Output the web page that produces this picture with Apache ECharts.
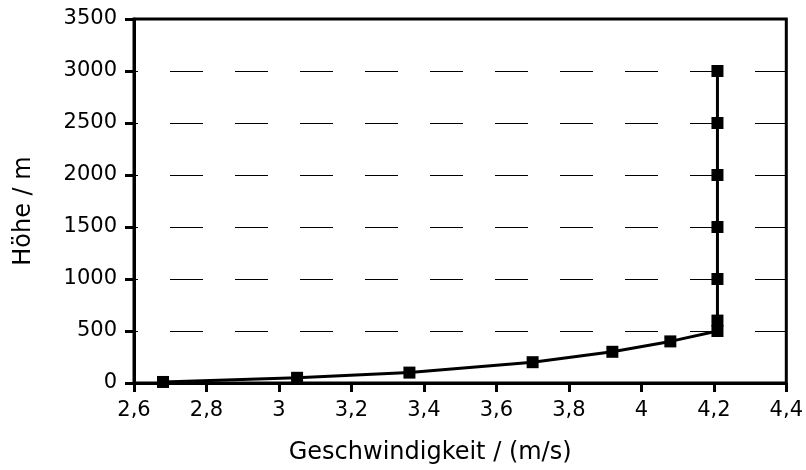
<!DOCTYPE html>
<html>
<head>
<meta charset="utf-8">
<script src="https://cdn.jsdelivr.net/npm/echarts@6/dist/echarts.min.js"></script>
<style>
  html, body { margin: 0; padding: 0; background: #fff; }
  #chart { width: 806px; height: 470px; }
</style>
</head>
<body>
<div id="chart"></div>
<script>
// Geschwindigkeit (m/s) und Höhe (m)
var speed = [2.68, 3.05, 3.36, 3.70, 3.92, 4.08, 4.21, 4.21, 4.21, 4.21, 4.21, 4.21, 4.21];
var height = [10, 50, 100, 200, 300, 400, 500, 600, 1000, 1500, 2000, 2500, 3000];
var xTitle = "Geschwindigkeit / (m/s)";
var yTitle = "Höhe / m";

var points = [];
for (var i = 0; i < speed.length; i++) {
    points.push([speed[i], height[i]]);
}

var font = "'DejaVu Sans', sans-serif";
var chart = echarts.init(document.getElementById("chart"));
chart.setOption({
    animation: false,
    backgroundColor: "#fff",
    grid: { left: 134, right: 18, top: 19, bottom: 86, show: true, borderColor: "#000", borderWidth: 3 },
    xAxis: {
        type: "value",
        min: 2.6, max: 4.4, interval: 0.2,
        name: xTitle, nameLocation: "middle", nameGap: 58,
        nameTextStyle: { fontFamily: font, fontSize: 24, color: "#000", padding: [0, 60, 0, 0] },
        axisLine: { show: true, lineStyle: { color: "#000", width: 3 } },
        axisTick: { show: true, inside: false, length: 9, lineStyle: { color: "#000", width: 3 } },
        axisLabel: {
            fontFamily: font, fontSize: 21, color: "#000", margin: 17,
            formatter: function(v) { return String(Math.round(v * 10) / 10).replace(".", ","); }
        },
        splitLine: { show: false }
    },
    yAxis: {
        type: "value",
        min: 0, max: 3500, interval: 500,
        name: yTitle, nameLocation: "middle", nameGap: 98, nameRotate: 90,
        nameTextStyle: { fontFamily: font, fontSize: 24, color: "#000", padding: [0, 20, 0, 0] },
        axisLine: { show: true, lineStyle: { color: "#000", width: 3 } },
        axisTick: { show: true, inside: false, length: 9, lineStyle: { color: "#000", width: 3 } },
        axisLabel: {
            fontFamily: font, fontSize: 21, color: "#000", margin: 17,
            formatter: function(v) { return String(v); }
        },
        splitLine: {
            show: true,
            lineStyle: { color: "#000", width: 1, type: [33, 32], dashOffset: 29 }
        }
    },
    series: [{
        type: "line",
        data: points,
        symbol: "rect",
        symbolSize: 12,
        showAllSymbol: true,
        lineStyle: { color: "#000", width: 3 },
        itemStyle: { color: "#000", borderWidth: 0 }
    }]
});
</script>
</body>
</html>
